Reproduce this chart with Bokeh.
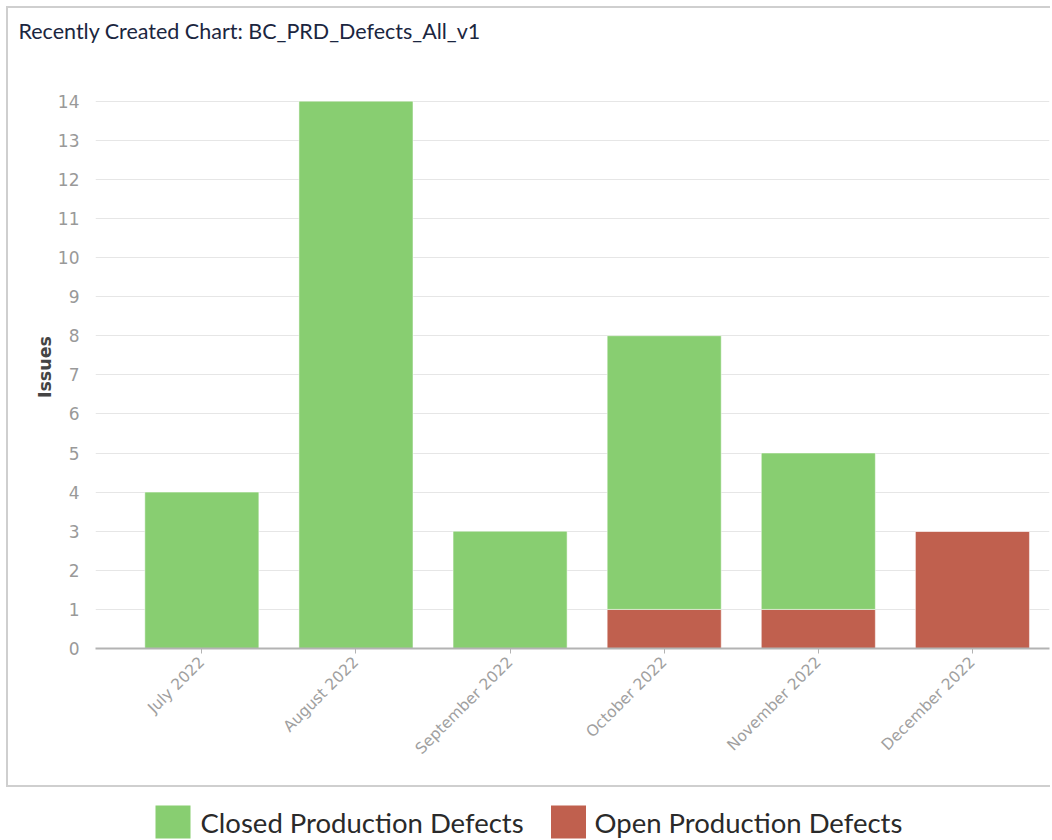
import math
from bokeh.plotting import figure
from bokeh.layouts import column
from bokeh.models import Range1d, FixedTicker, ColumnDataSource, Title
from bokeh.core.properties import value
from bokeh.embed import file_html
from bokeh.resources import INLINE

# Monthly defect counts
months = ["July 2022", "August 2022", "September 2022", "October 2022",
          "November 2022", "December 2022"]
open_defects = [0, 0, 0, 1, 1, 3]
closed_defects = [4, 14, 3, 7, 4, 0]
series_names = ["Closed Production Defects", "Open Production Defects"]
series_colors = ["#88ce71", "#c0604e"]
y_ticks = list(range(0, 15))
chart_title = "Recently Created Chart: BC_PRD_Defects_All_v1"

xs = list(range(len(months)))
stack_top = [o + c for o, c in zip(open_defects, closed_defects)]
src = ColumnDataSource(dict(x=xs, open=open_defects, top=stack_top))

p = figure(width=1044, height=781,
           x_range=Range1d(-0.69, 5.5), y_range=Range1d(0, 14.4),
           output_backend="svg", toolbar_location=None,
           title=chart_title,
           min_border_left=87, min_border_right=3, min_border_bottom=141,
           min_border_top=0)
p.margin = (6, 0, 0, 6)
p.styles = {"border-left": "2px solid #cfcfcf", "border-top": "2px solid #cfcfcf",
            "border-bottom": "2px solid #cfcfcf"}
p.outline_line_color = None
p.background_fill_color = "white"

p.title.text_font = "Lato"
p.title.text_font_size = "21.5px"
p.title.text_font_style = "normal"
p.title.text_color = "#1b2640"
p.title.align = "left"
p.title.offset = -77
p.title.standoff = 15

# blank band between the heading and the plotting area
p.add_layout(Title(text=" ", text_font_size="10px", standoff=21), "above")

# open at the bottom, closed stacked on top
p.vbar(x="x", bottom=0, top="open", width=0.74, source=src,
       fill_color=series_colors[1], line_color="white", line_alpha=0.5)
p.vbar(x="x", bottom="open", top="top", width=0.74, source=src,
       fill_color=series_colors[0], line_color="white", line_alpha=0.5)

p.xgrid.grid_line_color = None
p.ygrid.grid_line_color = "#e6e6e6"
p.ygrid.ticker = FixedTicker(ticks=y_ticks)

p.yaxis.ticker = FixedTicker(ticks=y_ticks)
p.yaxis.axis_line_color = None
p.yaxis.major_tick_line_color = None
p.yaxis.minor_tick_line_color = None
p.yaxis.major_label_text_color = "#999999"
p.yaxis.major_label_text_font = "DejaVu Sans"
p.yaxis.major_label_text_font_size = "17px"
p.yaxis.major_label_standoff = 10
p.yaxis.axis_label = "Issues"
p.yaxis.axis_label_text_font = "DejaVu Sans"
p.yaxis.axis_label_text_font_size = "17.5px"
p.yaxis.axis_label_text_font_style = "bold"
p.yaxis.axis_label_text_color = "#444444"
p.yaxis.axis_label_standoff = 0

p.xaxis.ticker = FixedTicker(ticks=xs)
p.xaxis.major_label_overrides = {i: m for i, m in zip(xs, months)}
p.xaxis.axis_line_color = "#b3b3b3"
p.xaxis.axis_line_width = 2
p.xaxis.major_tick_line_color = "#b3b3b3"
p.xaxis.major_tick_out = 5
p.xaxis.major_tick_in = 0
p.xaxis.minor_tick_line_color = None
p.xaxis.major_label_orientation = math.pi / 4
p.xaxis.major_label_text_color = "#a0a0a0"
p.xaxis.major_label_text_font = "DejaVu Sans"
p.xaxis.major_label_text_font_size = "15.5px"
p.xaxis.major_label_standoff = 6

# legend strip under the chart box (frame aligned with the chart frame above)
leg = figure(width=1052, height=53, x_range=Range1d(87, 1049), y_range=Range1d(53, 0),
             output_backend="svg", toolbar_location=None,
             min_border=0)
leg.axis.visible = False
leg.grid.visible = False
leg.outline_line_color = None
leg_src = ColumnDataSource(dict(
    sx=[172.5, 568], tx=[200, 594], name=series_names, color=series_colors))
leg.rect(x="sx", y=34.5, width=35, height=33, source=leg_src,
         fill_color="color", line_color=None)
leg.text(x="tx", y=35, text="name", source=leg_src,
         text_font=value("Lato"), text_font_size="27.5px", text_color="#2a2a2a",
         text_baseline="middle")

layout = column(p, leg, spacing=0)
open("out.html", "w").write(file_html(layout, INLINE))
